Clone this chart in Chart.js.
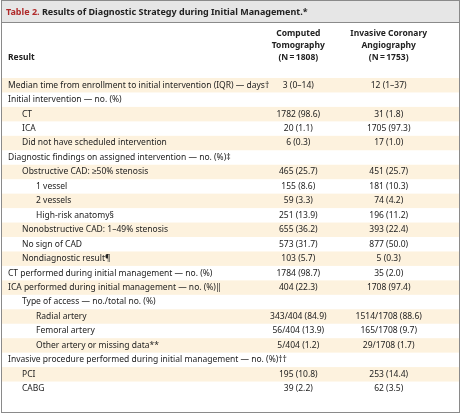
<!DOCTYPE html>
<html>
<head>
<meta charset="utf-8">
<script src="https://cdn.jsdelivr.net/npm/chart.js@4"></script>
<style>body{margin:0;background:#fff}</style>
</head>
<body>
<canvas id="tbl" width="461" height="415"></canvas>
<script>
// rows of the table, top to bottom
var rowLabels = [
  'Median time from enrollment to initial intervention (IQR) \u2014 days\u2020',
  'Initial intervention \u2014 no. (%)',
  'CT', 'ICA', 'Did not have scheduled intervention',
  'Diagnostic findings on assigned intervention \u2014 no. (%)\u2021',
  'Obstructive CAD: \u226550% stenosis', '1 vessel', '2 vessels', 'High-risk anatomy\u00a7',
  'Nonobstructive CAD: 1\u201349% stenosis', 'No sign of CAD', 'Nondiagnostic result\u00b6',
  'CT performed during initial management \u2014 no. (%)',
  'ICA performed during initial management \u2014 no. (%)\u2016',
  'Type of access \u2014 no./total no. (%)',
  'Radial artery', 'Femoral artery', 'Other artery or missing data**',
  'Invasive procedure performed during initial management \u2014 no. (%)\u2020\u2020',
  'PCI', 'CABG'
];
var rowIndent = [0,0,1,1,1,0,1,2,2,2,1,1,1,0,0,1,2,2,2,0,1,1];
var ctValues = ['3 (0\u201314)','','1782 (98.6)','20 (1.1)','6 (0.3)','','465 (25.7)','155 (8.6)','59 (3.3)','251 (13.9)',
  '655 (36.2)','573 (31.7)','103 (5.7)','1784 (98.7)','404 (22.3)','','343/404 (84.9)','56/404 (13.9)','5/404 (1.2)','','195 (10.8)','39 (2.2)'];
var icaValues = ['12 (1\u201337)','','31 (1.8)','1705 (97.3)','17 (1.0)','','451 (25.7)','181 (10.3)','74 (4.2)','196 (11.2)',
  '393 (22.4)','877 (50.0)','5 (0.3)','35 (2.0)','1708 (97.4)','','1514/1708 (88.6)','165/1708 (9.7)','29/1708 (1.7)','','253 (14.4)','62 (3.5)'];
var colHeaders = [['Computed','Tomography','(N\u202f=\u202f1808)'], ['Invasive Coronary','Angiography','(N\u202f=\u202f1753)']];
var titleBold = 'Table 2.';
var titleRest = ' Results of Diagnostic Strategy during Initial Management.*';

var FONT = '"Noto Sans", sans-serif';

var tablePlugin = {
  id: 'tablePlugin',
  beforeDraw: function(chart) {
    var c = chart.ctx, y = chart.scales.y;
    var h = y.getPixelForValue(1) - y.getPixelForValue(0);
    c.save();
    c.fillStyle = '#fff';
    c.fillRect(0, 0, 461, 415);
    // shaded rows
    c.fillStyle = '#fdf2de';
    for (var i = 0; i < rowLabels.length; i += 2) {
      c.fillRect(2, y.getPixelForValue(i) - h / 2, 457, h);
    }
    // title bar
    c.fillStyle = '#e6e6e6';
    c.fillRect(2, 1, 457, 21);
    c.strokeStyle = '#8a8a8a';
    c.lineWidth = 1;
    c.strokeRect(1.5, 0.5, 458, 412);
    c.beginPath(); c.moveTo(2, 22.5); c.lineTo(459, 22.5); c.stroke();
    c.restore();
  },
  afterDraw: function(chart) {
    var c = chart.ctx, y = chart.scales.y, x = chart.scales.x;
    var col1 = x.getPixelForValue(1), col2 = x.getPixelForValue(2);
    c.save();
    c.textBaseline = 'middle';
    // title
    c.font = 'bold 9px ' + FONT;
    c.fillStyle = '#b02a2a';
    c.textAlign = 'left';
    c.fillText(titleBold, 6, 12);
    var w = c.measureText(titleBold).width;
    c.fillStyle = '#222';
    c.fillText(titleRest, 6 + w, 12);
    // headers
    c.font = 'bold 8.5px ' + FONT;
    c.fillText('Result', 8, 58);
    c.textAlign = 'center';
    [col1, col2].forEach(function(cx, k) {
      colHeaders[k].forEach(function(t, j) { c.fillText(t, cx, 34 + j * 12); });
    });
    // body
    c.font = '8.5px ' + FONT;
    c.fillStyle = '#222';
    rowLabels.forEach(function(lab, i) {
      var py = y.getPixelForValue(i);
      c.textAlign = 'left';
      c.fillText(lab, 8 + rowIndent[i] * 14, py);
      c.textAlign = 'center';
      c.fillText(ctValues[i], col1, py);
      c.fillText(icaValues[i], col2, py);
    });
    c.restore();
  }
};

new Chart(document.getElementById('tbl'), {
  type: 'bar',
  data: { labels: rowLabels, datasets: [{ data: [], backgroundColor: 'transparent' }] },
  options: {
    indexAxis: 'y',
    responsive: false,
    animation: false,
    layout: { padding: { top: 78, bottom: 19, left: 0, right: 0 } },
    plugins: { legend: { display: false }, tooltip: { enabled: false } },
    scales: {
      y: { display: false, offset: true },
      x: { display: false, type: 'linear', min: -2.3, max: 2.8 }
    }
  },
  plugins: [tablePlugin]
});
</script>
</body>
</html>
